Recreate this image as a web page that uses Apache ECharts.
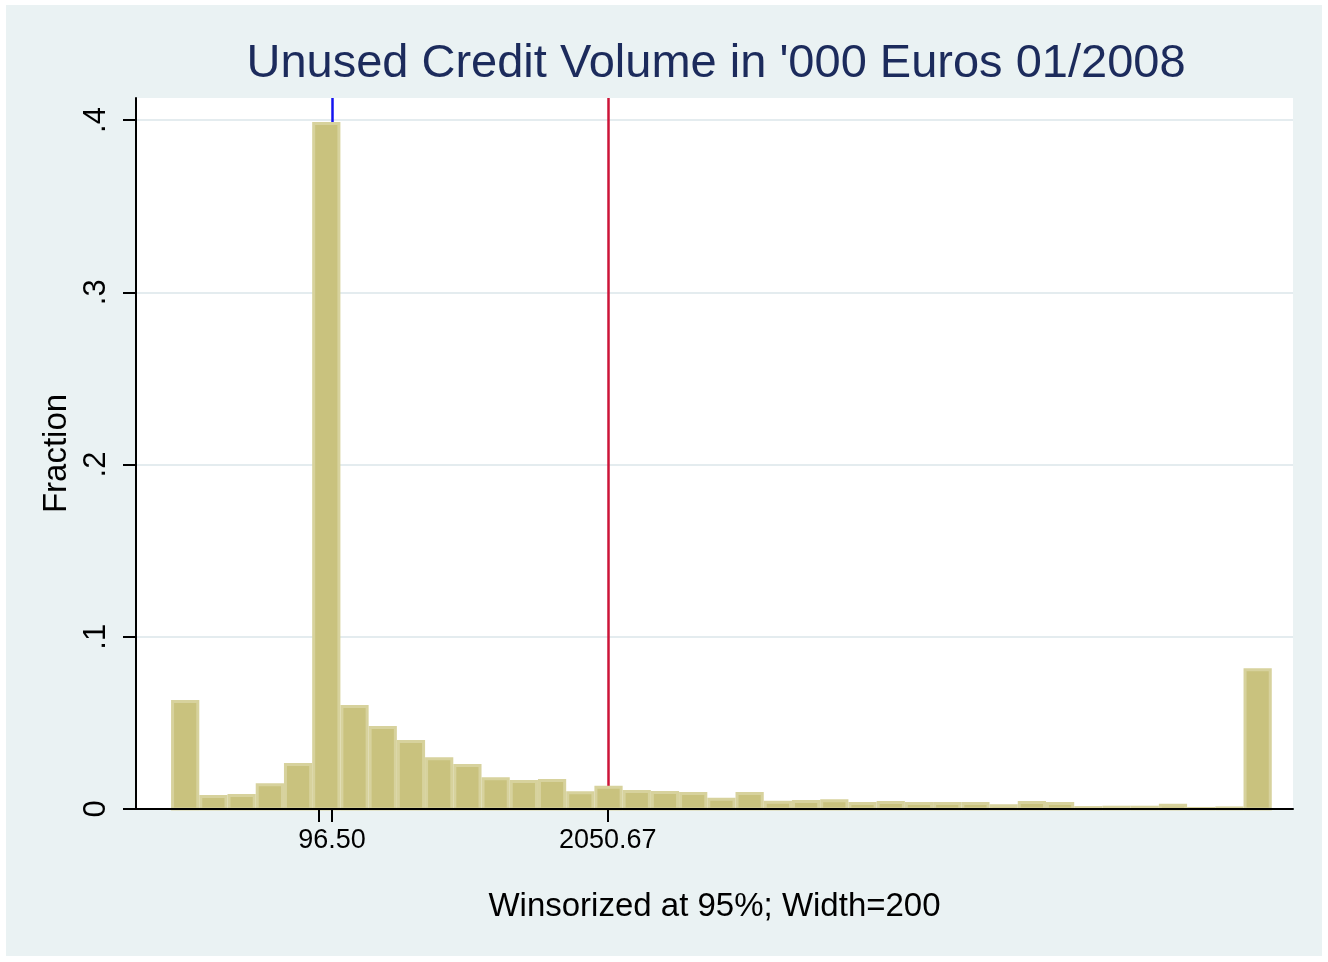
<!DOCTYPE html>
<html>
<head>
<meta charset="utf-8">
<script src="https://cdn.jsdelivr.net/npm/echarts@6/dist/echarts.min.js"></script>
<style>
  html, body { margin: 0; padding: 0; background: #fff; }
  #chart { width: 1328px; height: 962px; }
</style>
</head>
<body>
<div id="chart"></div>
<script>
// histogram bins, width 200
const binWidth = 200
const firstBinStart = -1044
const fractions = [
  0.0633, 0.0081, 0.0087, 0.0149, 0.0267, 0.3988, 0.0604, 0.0482, 0.0401, 0.0300,
  0.0261, 0.0185, 0.0168, 0.0174, 0.0103, 0.0135, 0.0110, 0.0104, 0.0099, 0.0066,
  0.0099, 0.0048, 0.0052, 0.0056, 0.0041, 0.0046, 0.0041, 0.0041, 0.0041, 0.0027,
  0.0046, 0.0041, 0.0017, 0.0019, 0.0019, 0.0031, 0.0012, 0.0015, 0.0817
]
const xTickValues = [0, 96.5, 2050.67]
const xLabelValues = [96.5, 2050.67]
const yTickValues = [0, 0.1, 0.2, 0.3, 0.4]
const refLineValues = [96.5, 2050.67]
const refLineColors = ['#1414f0', '#cc1438']

const FONT = 'Liberation Sans, Arial, Helvetica, sans-serif'

const binData = fractions.map((f, i) => {
  const start = firstBinStart + i * binWidth
  return [start, start + binWidth, f]
})

const chart = echarts.init(document.getElementById('chart'))

const option = {
  animation: false,
  backgroundColor: '#fff',
  graphic: {
    elements: [{
      type: 'rect',
      z: -100,
      silent: true,
      shape: { x: 6, y: 5, width: 1316, height: 951 },
      style: { fill: '#eaf2f3' }
    }]
  },
  title: {
    text: "Unused Credit Volume in '000 Euros 01/2008",
    left: 711,
    top: 36,
    textAlign: 'center',
    textStyle: {
      color: '#1c2b5c',
      fontSize: 47,
      fontWeight: 'normal',
      fontFamily: FONT
    }
  },
  grid: {
    left: 136,
    right: 35,
    top: 98,
    bottom: 153,
    show: true,
    backgroundColor: '#fff',
    borderWidth: 0
  },
  xAxis: {
    type: 'value',
    min: -1292.5,
    max: 6906.5,
    z: 5,
    name: 'Winsorized at 95%; Width=200',
    nameLocation: 'middle',
    nameGap: 81,
    nameTextStyle: { color: '#000', fontSize: 33, fontFamily: FONT },
    axisLine: { show: true, onZero: false, lineStyle: { color: '#000', width: 2 } },
    axisTick: { show: true, length: 13, customValues: xTickValues, lineStyle: { color: '#000', width: 2 } },
    axisLabel: {
      customValues: xLabelValues,
      margin: 18,
      color: '#000',
      fontSize: 27,
      fontFamily: FONT,
      formatter: v => v.toFixed(2)
    },
    splitLine: { show: false }
  },
  yAxis: {
    type: 'value',
    min: 0,
    max: 0.4128,
    interval: 0.1,
    name: 'Fraction',
    nameLocation: 'middle',
    nameGap: 56,
    nameTextStyle: { color: '#000', fontSize: 33, fontFamily: FONT },
    axisLine: { show: true, onZero: false, lineStyle: { color: '#000', width: 2 } },
    axisTick: { show: true, length: 13, customValues: yTickValues, lineStyle: { color: '#000', width: 2 } },
    axisLabel: {
      customValues: yTickValues,
      rotate: 90,
      margin: 24,
      color: '#000',
      fontSize: 31,
      fontFamily: FONT,
      formatter: v => (v === 0 ? '0' : '.' + Math.round(v * 10))
    },
    splitLine: { show: true, lineStyle: { color: '#e4ecef', width: 2 } }
  },
  series: [
    {
      // reference lines, drawn behind the bars
      type: 'line',
      data: [],
      z: 1,
      markLine: {
        z: 1,
        silent: true,
        symbol: 'none',
        label: { show: false },
        data: refLineValues.map((v, i) => ({
          xAxis: v,
          lineStyle: { color: refLineColors[i], width: 2.5, type: 'solid' }
        }))
      }
    },
    {
      type: 'custom',
      z: 3,
      data: binData,
      encode: { x: [0, 1], y: 2 },
      renderItem: (params, api) => {
        const p0 = api.coord([api.value(0), 0])
        const p1 = api.coord([api.value(1), api.value(2)])
        const inset = 1.5
        return {
          type: 'rect',
          shape: {
            x: p0[0] + inset,
            y: p1[1] + inset,
            width: p1[0] - p0[0] - 2 * inset,
            height: Math.max(0, p0[1] - p1[1] - inset)
          },
          style: { fill: '#c9c27e', stroke: '#d7d29d', lineWidth: 3 }
        }
      }
    }
  ]
}

chart.setOption(option)
</script>
</body>
</html>
